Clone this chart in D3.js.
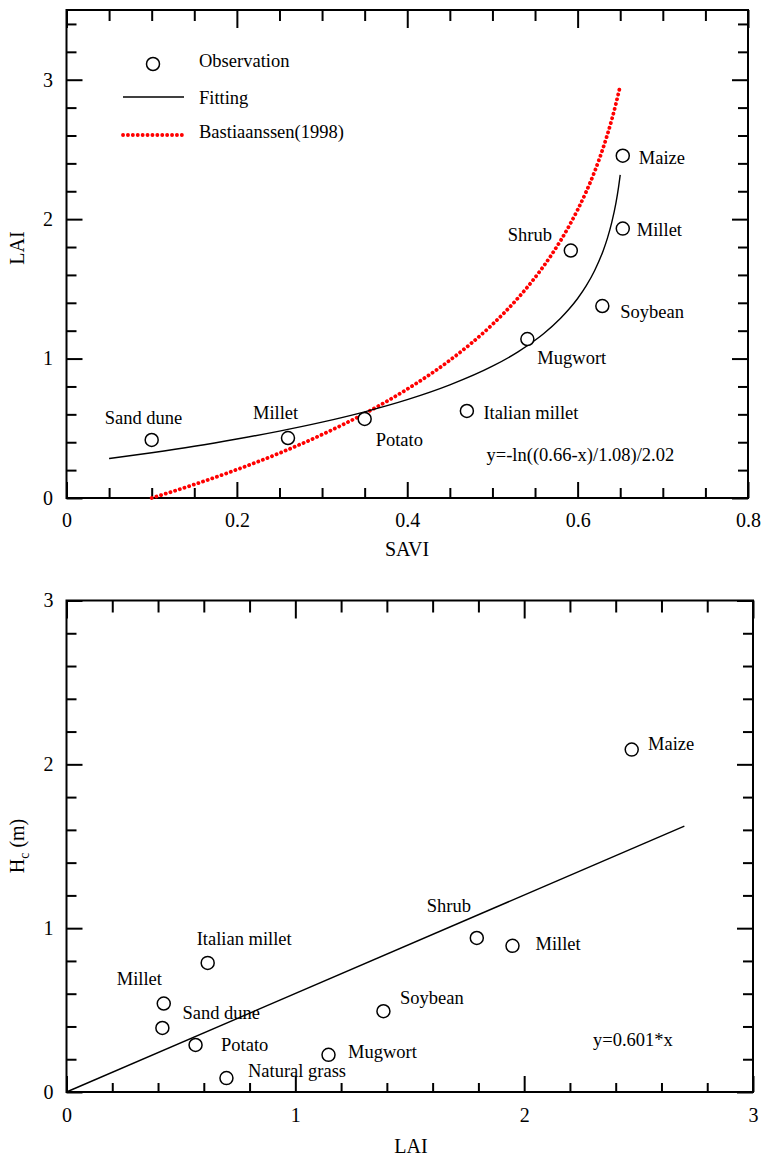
<!DOCTYPE html>
<html>
<head>
<meta charset="utf-8">
<script src="https://cdn.jsdelivr.net/npm/d3@7/dist/d3.min.js"></script>
<style>
  body { margin: 0; background: #fff; }
  svg { display: block; }
  svg text { font-family: "Liberation Serif", "Times New Roman", Tinos, serif !important; fill: #000; }
</style>
</head>
<body>
<svg id="chart" width="763" height="1158" font-family="Liberation Serif, Times New Roman, serif"></svg>
<script>
// ---------- DATA: top panel (SAVI vs LAI) ----------
const topNames = ["Sand dune", "Millet", "Potato", "Italian millet", "Mugwort", "Shrub", "Soybean", "Millet", "Maize"];
const topSAVI  = [0.100, 0.260, 0.350, 0.470, 0.541, 0.592, 0.629, 0.653, 0.653];
const topLAI   = [0.416, 0.430, 0.567, 0.624, 1.140, 1.775, 1.377, 1.932, 2.455];

// fitted curve samples
const fitX = [0.05, 0.10, 0.15, 0.20, 0.25, 0.30, 0.35, 0.40, 0.45, 0.50, 0.53, 0.55, 0.56, 0.58, 0.59, 0.60, 0.61, 0.62, 0.63, 0.635, 0.64, 0.645, 0.648, 0.65];
const fitY = [0.283, 0.325, 0.371, 0.423, 0.480, 0.544, 0.618, 0.705, 0.811, 0.945, 1.048, 1.131, 1.178, 1.289, 1.355, 1.431, 1.521, 1.632, 1.774, 1.864, 1.975, 2.117, 2.228, 2.318];

// Bastiaanssen (1998) curve samples
const basX = [0.10, 0.15, 0.20, 0.25, 0.30, 0.35, 0.40, 0.45, 0.50, 0.53, 0.55, 0.57, 0.59, 0.61, 0.62, 0.63, 0.64, 0.645, 0.649];
const basY = [0.000, 0.097, 0.204, 0.322, 0.455, 0.606, 0.781, 0.988, 1.245, 1.434, 1.581, 1.750, 1.951, 2.196, 2.342, 2.512, 2.712, 2.828, 2.930];

const topXTicks = [0, 0.2, 0.4, 0.6, 0.8];
const topXTickLabels = ["0", "0.2", "0.4", "0.6", "0.8"];
const topYTicks = [0, 1, 2, 3];
const topYTickLabels = ["0", "1", "2", "3"];
const topEquation = "y=-ln((0.66-x)/1.08)/2.02";
const legendLabels = ["Observation", "Fitting", "Bastiaanssen(1998)"];

// ---------- DATA: bottom panel (LAI vs Hc) ----------
const botNames = ["Maize", "Shrub", "Millet", "Italian millet", "Millet", "Sand dune", "Potato", "Natural grass", "Mugwort", "Soybean"];
const botLAI   = [2.470, 1.793, 1.949, 0.617, 0.425, 0.419, 0.564, 0.699, 1.145, 1.385];
const botHc    = [2.090, 0.940, 0.892, 0.788, 0.540, 0.391, 0.287, 0.085, 0.227, 0.493];
const lineLAI  = [0, 2.7];
const lineHc   = [0, 1.623];
const botXTicks = [0, 1, 2, 3];
const botXTickLabels = ["0", "1", "2", "3"];
const botYTicks = [0, 1, 2, 3];
const botYTickLabels = ["0", "1", "2", "3"];
const botEquation = "y=0.601*x";

// ---------- layout (not data) ----------
const topLabelDx = [-47, -35, 11, 16.5, 10, -63, 18, 14, 16];
const topLabelDy = [-16, -19, 27.5, 8.5, 25, -10, 11.5, 7.7, 8.7];
const botLabelDx = [16.3, -50, 23, -11, -47, 20, 25.5, 21.5, 19.5, 16.5];
const botLabelDy = [0.4, -26, 4, -18, -18.5, -8.5, 6, -1, 3, -7];

const FONT = "Liberation Serif, Times New Roman, serif";
const svg = d3.select("#chart");
const LBL = 18.5, TICK = 20, TITLE = 20;

function drawFrame(g, x, y, opt) {
  const [x0, x1] = x.range();
  const [y0, y1] = y.range(); // y0 bottom, y1 top
  const styleAxis = sel => {
    sel.attr("font-family", FONT);
    sel.select(".domain").remove();
    sel.selectAll("line").attr("stroke", "#000").attr("stroke-width", 2);
    sel.selectAll("text").style("font-size", TICK + "px").attr("font-family", FONT);
  };
  // bottom
  g.append("g").attr("transform", `translate(0,${y0})`)
    .call(d3.axisBottom(x).tickValues(opt.xMinor).tickSize(-opt.minorB).tickFormat(""))
    .call(styleAxis);
  g.append("g").attr("transform", `translate(0,${y0})`)
    .call(d3.axisBottom(x).tickValues(opt.xMajor).tickSize(-opt.majorB).tickPadding(opt.xPad)
      .tickFormat((d, i) => opt.xLabels[i]))
    .call(styleAxis);
  // top
  g.append("g").attr("transform", `translate(0,${y1})`)
    .call(d3.axisTop(x).tickValues(opt.xMinor).tickSize(-opt.minorT).tickFormat(""))
    .call(styleAxis);
  g.append("g").attr("transform", `translate(0,${y1})`)
    .call(d3.axisTop(x).tickValues(opt.xMajor).tickSize(-opt.majorT).tickFormat(""))
    .call(styleAxis);
  // left
  g.append("g").attr("transform", `translate(${x0},0)`)
    .call(d3.axisLeft(y).tickValues(opt.yMinor).tickSize(-10).tickFormat(""))
    .call(styleAxis);
  g.append("g").attr("transform", `translate(${x0},0)`)
    .call(d3.axisLeft(y).tickValues(opt.yMajor).tickSize(-16).tickPadding(opt.yPad)
      .tickFormat((d, i) => opt.yLabels[i]))
    .call(styleAxis);
  // right
  g.append("g").attr("transform", `translate(${x1},0)`)
    .call(d3.axisRight(y).tickValues(opt.yMinor).tickSize(-10).tickFormat(""))
    .call(styleAxis);
  g.append("g").attr("transform", `translate(${x1},0)`)
    .call(d3.axisRight(y).tickValues(opt.yMajor).tickSize(-16).tickFormat(""))
    .call(styleAxis);
  // box
  g.append("rect").attr("x", x0).attr("y", y1).attr("width", x1 - x0).attr("height", y0 - y1)
    .attr("fill", "none").attr("stroke", "#000").attr("stroke-width", 2);
}

function minorTicks(lo, hi, step, majors) {
  const out = [];
  const n = Math.round((hi - lo) / step);
  for (let i = 0; i <= n; i++) {
    const v = +(lo + i * step).toFixed(4);
    if (!majors.some(m => Math.abs(m - v) < 1e-6)) out.push(v);
  }
  return out;
}

// ================= TOP PANEL =================
const xT = d3.scaleLinear().domain([0, 0.8]).range([66.5, 748]);
const yT = d3.scaleLinear().domain([0, 3.5]).range([498, 10]);
const gT = svg.append("g");

drawFrame(gT, xT, yT, {
  xMajor: topXTicks, xLabels: topXTickLabels, xMinor: minorTicks(0, 0.8, 0.05, topXTicks),
  yMajor: topYTicks, yLabels: topYTickLabels, yMinor: minorTicks(0, 3.4, 0.2, topYTicks),
  minorB: 10, majorB: 16, minorT: 11, majorT: 18, xPad: 15, yPad: 13.5
});

const line = d3.line().curve(d3.curveMonotoneX);

// Bastiaanssen dotted red
gT.append("path")
  .attr("d", line(basX.map((v, i) => [xT(v), yT(basY[i])])))
  .attr("fill", "none").attr("stroke", "#ff0000").attr("stroke-width", 3.8)
  .attr("stroke-linecap", "round").attr("stroke-dasharray", "0.1 4.8");

// Fitting
gT.append("path")
  .attr("d", line(fitX.map((v, i) => [xT(v), yT(fitY[i])])))
  .attr("fill", "none").attr("stroke", "#000").attr("stroke-width", 1.4);

// observations
gT.selectAll("circle.obs").data(topSAVI).join("circle").attr("class", "obs")
  .attr("cx", d => xT(d)).attr("cy", (d, i) => yT(topLAI[i])).attr("r", 6.5)
  .attr("fill", "#fff").attr("stroke", "#000").attr("stroke-width", 1.5);

gT.selectAll("text.lbl").data(topNames).join("text").attr("class", "lbl")
  .attr("x", (d, i) => xT(topSAVI[i]) + topLabelDx[i])
  .attr("y", (d, i) => yT(topLAI[i]) + topLabelDy[i])
  .attr("font-family", FONT).style("font-size", LBL + "px").text(d => d);

gT.append("text").attr("x", 486.5).attr("y", 461).attr("font-family", FONT)
  .style("font-size", LBL + "px").text(topEquation);

// legend
const lg = gT.append("g");
lg.append("circle").attr("cx", 153).attr("cy", 64).attr("r", 6.5)
  .attr("fill", "#fff").attr("stroke", "#000").attr("stroke-width", 1.5);
lg.append("line").attr("x1", 123).attr("x2", 184).attr("y1", 97).attr("y2", 97)
  .attr("stroke", "#000").attr("stroke-width", 1.4);
lg.append("line").attr("x1", 123).attr("x2", 185).attr("y1", 135).attr("y2", 135)
  .attr("stroke", "#ff0000").attr("stroke-width", 3.8)
  .attr("stroke-linecap", "round").attr("stroke-dasharray", "0.1 4.8");
lg.selectAll("text").data(legendLabels).join("text")
  .attr("x", 199).attr("y", (d, i) => [67, 104, 138][i]).attr("font-family", FONT)
  .style("font-size", LBL + "px").text(d => d);

// titles
gT.append("text").attr("x", 407).attr("y", 556).attr("text-anchor", "middle").attr("font-family", FONT)
  .style("font-size", TITLE + "px").text("SAVI");
gT.append("text").attr("transform", "translate(24,248) rotate(-90)").attr("text-anchor", "middle")
  .attr("font-family", FONT).style("font-size", TITLE + "px").text("LAI");

// ================= BOTTOM PANEL =================
const xB = d3.scaleLinear().domain([0, 3]).range([66.5, 753]);
const yB = d3.scaleLinear().domain([0, 3]).range([1092, 600.5]);
const gB = svg.append("g");

drawFrame(gB, xB, yB, {
  xMajor: botXTicks, xLabels: botXTickLabels, xMinor: minorTicks(0, 3, 0.2, botXTicks),
  yMajor: botYTicks, yLabels: botYTickLabels, yMinor: minorTicks(0, 3, 0.2, botYTicks),
  minorB: 9, majorB: 16, minorT: 12, majorT: 18, xPad: 16, yPad: 13
});

gB.append("path")
  .attr("d", d3.line()(lineLAI.map((v, i) => [xB(v), yB(lineHc[i])])))
  .attr("fill", "none").attr("stroke", "#000").attr("stroke-width", 1.4);

gB.selectAll("circle.obs").data(botLAI).join("circle").attr("class", "obs")
  .attr("cx", d => xB(d)).attr("cy", (d, i) => yB(botHc[i])).attr("r", 6.5)
  .attr("fill", "#fff").attr("stroke", "#000").attr("stroke-width", 1.5);

gB.selectAll("text.lbl").data(botNames).join("text").attr("class", "lbl")
  .attr("x", (d, i) => xB(botLAI[i]) + botLabelDx[i])
  .attr("y", (d, i) => yB(botHc[i]) + botLabelDy[i])
  .attr("font-family", FONT).style("font-size", LBL + "px").text(d => d);

gB.append("text").attr("x", 593).attr("y", 1046).attr("font-family", FONT)
  .style("font-size", LBL + "px").text(botEquation);

gB.append("text").attr("x", 411).attr("y", 1153).attr("text-anchor", "middle").attr("font-family", FONT)
  .style("font-size", TITLE + "px").text("LAI");
const hc = gB.append("text").attr("transform", "translate(24,846) rotate(-90)").attr("text-anchor", "middle")
  .attr("font-family", FONT).style("font-size", TITLE + "px");
hc.append("tspan").text("H");
hc.append("tspan").attr("dy", 5).style("font-size", "14px").text("c");
hc.append("tspan").attr("dy", -5).text(" (m)");
</script>
</body>
</html>
